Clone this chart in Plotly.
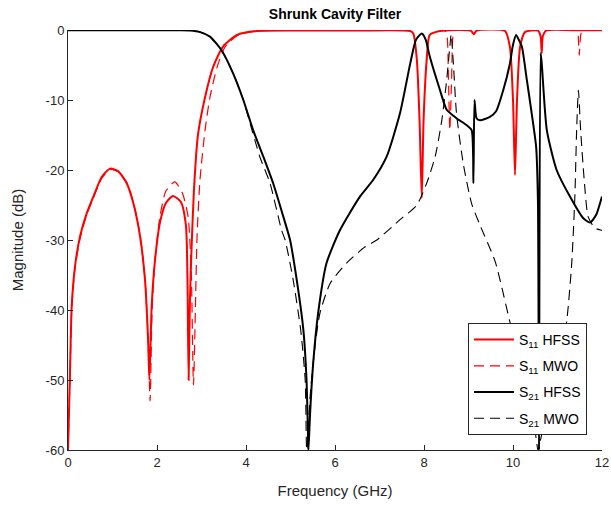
import plotly.graph_objects as go

# ---------------- data ----------------
f_s11_hfss = [0.0, 0.045, 0.083, 0.157, 0.27, 0.42, 0.57, 0.757, 0.944, 1.13, 1.32, 1.47, 1.62, 1.73, 1.80, 1.83,
              1.88, 1.955, 2.07, 2.20, 2.36, 2.54, 2.65, 2.685, 2.71, 2.74, 2.775, 2.83, 2.92, 3.08, 3.26, 3.48,
              3.80, 4.25, 5.2, 6.5, 7.69, 7.76, 7.84, 7.90, 7.95, 7.99, 8.06, 8.13, 8.36, 9.05, 9.12, 9.18,
              9.82, 9.93, 10.0, 10.045, 10.09, 10.16, 10.27, 10.56, 10.62, 10.645, 10.67, 10.74, 11.5, 12.0]
db_s11_hfss = [-60, -49, -39.5, -33.8, -29.5, -26.2, -23.8, -21.0, -19.8, -20.2, -21.9, -24.8, -29.5, -35.7, -44.3, -50,
               -39.5, -32.9, -27.4, -24.7, -23.7, -24.6, -27.9, -35.7, -50, -38.6, -31.4, -22.9, -15, -9.6, -5.3, -2.4,
               -0.7, -0.14, -0.07, -0.08, -0.15, -0.5, -4.3, -12.9, -24, -12.9, -4.3, -0.7, -0.15, -0.1, -0.6, -0.1,
               -0.15, -2.4, -10, -20.7, -10, -2.4, -0.3, -0.1, -0.9, -3.3, -0.9, -0.1, -0.05, -0.05]

f_s11_mwo = [0.0, 0.045, 0.083, 0.157, 0.27, 0.42, 0.57, 0.757, 0.944, 1.13, 1.32, 1.47, 1.62, 1.73, 1.80, 1.845,
             1.89, 1.96, 2.07, 2.20, 2.40, 2.57, 2.70, 2.77, 2.82, 2.90, 2.966, 3.08, 3.19, 3.35, 3.53, 3.80,
             4.25, 6.0, 8.47, 8.52, 8.55, 8.58, 8.62, 8.65, 8.70, 11.44, 11.47, 11.49, 11.51, 11.55, 12.0]
db_s11_mwo = [-60, -49.5, -40, -34, -29.8, -26.4, -24, -21.2, -19.9, -20.2, -21.8, -24.6, -29.3, -35.5, -44, -53,
              -40, -32.5, -26.5, -23, -21.7, -23.3, -26.7, -34.7, -50.7, -29.5, -21.4, -14.3, -9.6, -5.3, -2.4, -0.8,
              -0.15, -0.05, -0.1, -1.0, -7.1, -14.3, -7.1, -1.0, -0.1, -0.1, -1.5, -3.6, -1.5, -0.1, -0.05]

f_s21_hfss = [0.0, 1.0, 2.0, 2.5, 2.74, 2.97, 3.19, 3.45, 3.71, 3.94, 4.16, 4.39, 4.61, 4.84, 4.99, 5.14, 5.29,
              5.36, 5.40, 5.404, 5.44, 5.51, 5.62, 5.81, 6.11, 6.56, 6.86, 7.16, 7.46, 7.69, 7.82, 7.95, 8.04,
              8.13, 8.36, 8.51, 8.73, 8.96, 9.07, 9.11, 9.135, 9.18, 9.26, 9.48, 9.62, 9.78, 9.93, 10.0, 10.07,
              10.13, 10.20, 10.31, 10.42, 10.52, 10.56, 10.585, 10.62, 10.645, 10.76, 10.98, 11.28, 11.58, 11.73,
              11.87, 11.99, 12.0]
db_s21_hfss = [-0.02, -0.02, -0.03, -0.05, -0.08, -0.3, -0.95, -2.9, -6.2, -10, -14.3, -18.1, -21.9, -26.7, -30, -35.7, -42.9,
               -50, -59.5, -60, -54.8, -47.6, -40.5, -33.3, -28.6, -23.8, -21.4, -18.1, -11.9, -4.8, -1.4, -0.5, -1.4,
               -3.8, -8.6, -11.4, -12.6, -13.6, -14.3, -21.9, -10, -12.6, -12.9, -12.4, -11.6, -8.6, -4.8, -2.1, -0.7,
               -1.4, -2.4, -7.1, -11.9, -16.7, -24.3, -60, -3.3, -4.7, -14.3, -20, -23.8, -26.9, -27.5,
               -26.4, -24, -23.8]

f_s21_mwo = [0.0, 1.0, 2.0, 2.5, 2.74, 2.97, 3.19, 3.45, 3.71, 3.94, 4.05, 4.31, 4.54, 4.80, 4.88, 5.06, 5.23,
             5.33, 5.36, 5.37, 5.44, 5.55, 5.66, 5.89, 6.26, 6.67, 6.94, 7.46, 7.84, 8.06, 8.25, 8.40, 8.51, 8.58,
             8.61, 8.66, 8.73, 8.88, 9.07, 9.26, 9.60, 9.93, 10.2, 10.43, 10.54, 10.56, 10.72, 10.97, 11.21, 11.32,
             11.39, 11.43, 11.47, 11.52, 11.60, 11.69, 11.84, 11.99, 12.0]
db_s21_mwo = [-0.02, -0.02, -0.03, -0.05, -0.08, -0.3, -0.95, -2.9, -6.2, -10, -12.4, -18.1, -21.9, -28.6, -30, -35.7, -42.9,
              -50, -59.6, -60, -52.4, -45.2, -40.5, -36.2, -33.3, -31, -30, -27.1, -25, -21.9, -18.1, -12.9, -7.1, -2.4,
              -0.6, -4.8, -11.9, -19, -24.8, -27.9, -33.1, -41.7, -48.6, -54.3, -59.3, -60, -55.7, -50.7, -41.4, -33.3,
              -23.8, -14.3, -8.6, -14.3, -21.4, -26.7, -28.3, -28.6, -28.6]

x_ticks = [0, 2, 4, 6, 8, 10, 12]
y_ticks = [0, -10, -20, -30, -40, -50, -60]

series_names = ["S<sub>11</sub> HFSS", "S<sub>11</sub> MWO", "S<sub>21</sub> HFSS", "S<sub>21</sub> MWO"]

# ---------------- figure ----------------
FONT = "Liberation Sans, Arial, Helvetica, sans-serif"
AX = "#262626"
SM = 0.6

fig = go.Figure()
fig.add_trace(go.Scatter(x=f_s11_hfss, y=db_s11_hfss, mode="lines", name=series_names[0], legendgroup="a",
                         line=dict(color="#ff0000", width=2, shape="spline", smoothing=SM)))
fig.add_trace(go.Scatter(x=f_s11_mwo, y=db_s11_mwo, mode="lines", name=series_names[1], legendgroup="b",
                         line=dict(color="#ff0000", width=1.2, dash="10px,6px", shape="spline", smoothing=SM)))
fig.add_trace(go.Scatter(x=f_s21_hfss, y=db_s21_hfss, mode="lines", name=series_names[2], legendgroup="c",
                         line=dict(color="#000000", width=2, shape="spline", smoothing=SM)))
fig.add_trace(go.Scatter(x=f_s21_mwo, y=db_s21_mwo, mode="lines", name=series_names[3], legendgroup="d",
                         line=dict(color="#000000", width=1.1, dash="10px,6px", shape="spline", smoothing=SM)))

fig.update_layout(
    width=611, height=506,
    margin=dict(l=68, r=9, t=30, b=56, autoexpand=False),
    paper_bgcolor="white", plot_bgcolor="white",
    font=dict(family=FONT, color=AX),
    title=dict(text="<b>Shrunk Cavity Filter</b>", x=335 / 611, xanchor="center",
               y=1 - 14 / 506, yanchor="middle", font=dict(size=14, color="#000000", family=FONT)),
    xaxis=dict(range=[0, 12], tickvals=x_ticks, ticktext=[str(v) for v in x_ticks], automargin=False,
               ticks="inside", ticklen=5, tickcolor=AX, showline=True, linecolor=AX, linewidth=1,
               mirror=False, showgrid=False, zeroline=False,
               tickfont=dict(size=13, color=AX, family=FONT),
               title=dict(text="Frequency (GHz)", font=dict(size=15, color=AX, family=FONT), standoff=16)),
    yaxis=dict(range=[-60, 0], tickvals=y_ticks, ticktext=[str(v) for v in y_ticks], automargin=False,
               ticks="inside", ticklen=5, tickcolor=AX, showline=True, linecolor=AX, linewidth=1,
               mirror=False, showgrid=False, zeroline=False,
               tickfont=dict(size=13, color=AX, family=FONT),
               title=dict(text="Magnitude (dB)", font=dict(size=15, color=AX, family=FONT), standoff=18)),
    legend=dict(x=(587 - 68) / 534, xanchor="right", y=(450 - 323) / 420, yanchor="top",
                bgcolor="white", bordercolor=AX, borderwidth=1, tracegroupgap=5,
                font=dict(size=14, color="#000000", family=FONT), itemwidth=40),
    showlegend=True,
)

fig.write_html("out.html")
